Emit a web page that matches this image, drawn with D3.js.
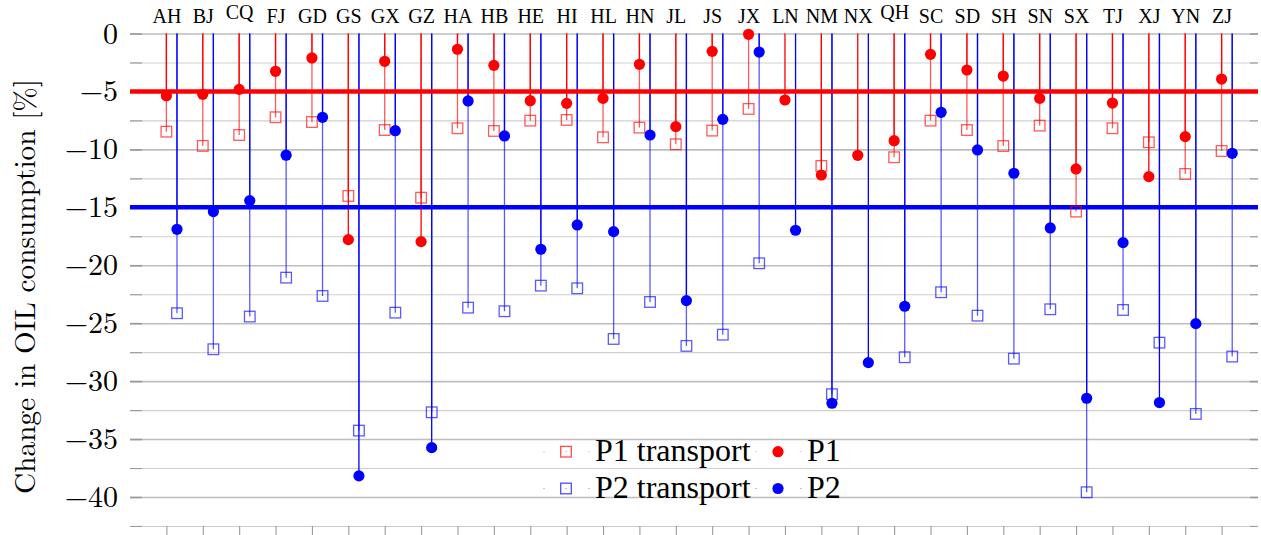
<!DOCTYPE html>
<html>
<head>
<meta charset="utf-8">
<script src="https://cdn.jsdelivr.net/npm/d3@7"></script>
<style>
  html, body { margin: 0; padding: 0; background: #fff; }
  svg { display: block; }
</style>
</head>
<body>
<svg id="chart" width="1261" height="535"></svg>
<script>
// ---------- data ----------
const categories = ["AH","BJ","CQ","FJ","GD","GS","GX","GZ","HA","HB","HE","HI","HL","HN","JL","JS","JX","LN","NM","NX","QH","SC","SD","SH","SN","SX","TJ","XJ","YN","ZJ"];
const p1Transport = [-8.47,-9.7,-8.76,-7.23,-7.64,-14.02,-8.33,-14.17,-8.18,-8.41,-7.52,-7.46,-8.96,-8.12,-9.56,-8.38,-6.51,null,-11.43,null,-10.68,-7.52,-8.33,-9.71,-7.95,-15.37,-8.18,-9.39,-12.12,-10.14];
const p1 = [-5.37,-5.25,-4.82,-3.26,-2.11,-17.79,-2.40,-17.96,-1.36,-2.75,-5.8,-6.03,-5.6,-2.66,-8.04,-1.54,-0.07,-5.74,-12.21,-10.51,-9.25,-1.8,-3.15,-3.67,-5.6,-11.69,-6.0,-12.35,-8.9,-3.93];
const p2Transport = [-24.14,-27.25,-24.43,-21.07,-22.65,-34.27,-24.09,-32.69,-23.66,-23.97,-21.76,-21.99,-26.36,-23.17,-26.96,-25.99,-19.83,null,-31.13,null,-27.94,-22.33,-24.35,-28.06,-23.8,-39.59,-23.86,-26.68,-32.83,-27.88];
const p2 = [-16.9,-15.37,-14.42,-10.5,-7.23,-38.18,-8.39,-35.74,-5.82,-8.84,-18.62,-16.52,-17.1,-8.76,-23.05,-7.41,-1.6,-16.98,-31.91,-28.4,-23.54,-6.8,-10.05,-12.06,-16.78,-31.48,-18.05,-31.85,-25.04,-10.34];
const targets = [{value: -5, color: "#ff0000"}, {value: -15, color: "#0000ff"}];
const yTickLabels = [0,-5,-10,-15,-20,-25,-30,-35,-40];
const yGrid = d3.range(0, -42.51, -2.5);
const yLabel = "Change in OIL consumption [%]";
const legendItems = [
  {label: "P1 transport", color: "#ff0000", shape: "square"},
  {label: "P1", color: "#ff0000", shape: "circle"},
  {label: "P2 transport", color: "#0000ff", shape: "square"},
  {label: "P2", color: "#0000ff", shape: "circle"}
];

(function () {
const CM = '"Latin Modern Roman", "Liberation Serif", serif';
const TIMES = '"Liberation Serif", "Times New Roman", serif';
// ---------- layout ----------
const svg = d3.select("#chart");
const pLeft = 130, pRight = 1258, pTop = 33.5;
const x = d3.scaleLinear().domain([0, categories.length + 1]).range([pLeft, pRight]);
const y = d3.scaleLinear().domain([0, -40]).range([pTop, 497]);
const blueShift = 10.6;
const cx = i => x(i + 1);

// grid
const grid = svg.append("g").attr("transform", `translate(${pLeft},0)`)
  .call(d3.axisRight(y).tickValues(yGrid).tickSize(pRight - pLeft).tickFormat(""));
grid.select(".domain").remove();
grid.selectAll(".tick line")
  .attr("stroke", d => (d % 5 === 0) ? "#bdbdbd" : "#cfcfcf")
  .attr("stroke-width", d => (d % 5 === 0) ? 1.6 : 1.1);

// left ticks (inner)
const lt = svg.append("g").attr("transform", `translate(${pLeft},0)`)
  .call(d3.axisRight(y).tickValues(yGrid).tickSize(12).tickFormat(""));
lt.select(".domain").remove();
lt.selectAll(".tick line").attr("stroke", "#9a9a9a").attr("stroke-width", d => (d % 5 === 0) ? 1.6 : 1.1);
// right ticks (inner)
const rt = svg.append("g").attr("transform", `translate(${pRight},0)`)
  .call(d3.axisLeft(y).tickValues(yGrid).tickSize(8).tickFormat(""));
rt.select(".domain").remove();
rt.selectAll(".tick line").attr("stroke", "#9a9a9a").attr("stroke-width", d => (d % 5 === 0) ? 1.6 : 1.1);

// y tick labels
const yl = svg.append("g").attr("transform", `translate(${pLeft},0)`)
  .call(d3.axisLeft(y).tickValues(yTickLabels).tickSize(0).tickPadding(12)
    .tickFormat(d => d === 0 ? "0" : "\u2212" + Math.abs(d)));
yl.select(".domain").remove();
yl.selectAll(".tick text").attr("dy", "9.5").attr("fill", "#000")
  .style("font-family", CM).style("font-size", "30px");

// bottom ticks
const bt = svg.append("g").attr("transform", `translate(0,${y(-42.5)})`)
  .call(d3.axisBottom(x).tickValues(d3.range(1, categories.length + 1)).tickSize(10).tickFormat(""));
bt.select(".domain").remove();
bt.selectAll(".tick line").attr("stroke", "#9a9a9a").attr("stroke-width", 1.1);

// top category labels
const tl = svg.append("g").attr("transform", `translate(0,${pTop})`)
  .call(d3.axisTop(x).tickValues(d3.range(1, categories.length + 1)).tickSize(0).tickPadding(11)
    .tickFormat(d => categories[d - 1]));
tl.select(".domain").remove();
tl.selectAll(".tick text").attr("fill", "#000")
  .style("font-family", TIMES).style("font-size", "20px")
  .attr("dy", d => categories[d - 1].includes("Q") ? -3.5 : 0);

// y axis title
svg.append("text")
  .attr("transform", `translate(34.5,286.5) rotate(-90)`)
  .attr("text-anchor", "middle")
  .attr("fill", "#000")
  .style("font-family", CM).style("font-size", "29.3px")
  .text(yLabel);

// ---------- series ----------
const series = [
  {values: p1Transport, color: "#ff0000", shape: "square", shift: 0, opacity: 0.65},
  {values: p1, color: "#ff0000", shape: "circle", shift: 0, opacity: 1},
  {values: p2Transport, color: "#0000ff", shape: "square", shift: blueShift, opacity: 0.65},
  {values: p2, color: "#0000ff", shape: "circle", shift: blueShift, opacity: 1}
];
const plot = svg.append("g");
series.forEach(s => {
  const pts = s.values.map((v, i) => ({v, i})).filter(d => d.v !== null);
  plot.append("g").selectAll("line").data(pts).join("line")
    .attr("x1", d => cx(d.i) + s.shift).attr("x2", d => cx(d.i) + s.shift)
    .attr("y1", y(0)).attr("y2", d => y(d.v))
    .attr("stroke", s.color).attr("stroke-width", 1.3).attr("stroke-opacity", s.opacity);
});
// target lines
svg.append("g").selectAll("line").data(targets).join("line")
  .attr("x1", pLeft).attr("x2", pRight)
  .attr("y1", d => y(d.value)).attr("y2", d => y(d.value))
  .attr("stroke", d => d.color).attr("stroke-width", 4.5);
// markers
series.forEach(s => {
  const pts = s.values.map((v, i) => ({v, i})).filter(d => d.v !== null);
  const g = svg.append("g");
  if (s.shape === "circle") {
    g.selectAll("circle").data(pts).join("circle")
      .attr("cx", d => cx(d.i) + s.shift).attr("cy", d => y(d.v)).attr("r", 5.6)
      .attr("fill", s.color);
  } else {
    g.selectAll("rect").data(pts).join("rect")
      .attr("x", d => cx(d.i) + s.shift - 5.3).attr("y", d => y(d.v) - 5.3)
      .attr("width", 10.6).attr("height", 10.6)
      .attr("fill", "none").attr("stroke", s.color).attr("stroke-width", 1.3)
      .attr("stroke-opacity", s.opacity);
  }
});

// ---------- legend ----------
const legend = svg.append("g");
const colX = [544, 756];
const rowY = [451.7, 488.5];
legendItems.forEach((it, k) => {
  const lx = colX[k % 2], ly = rowY[Math.floor(k / 2)];
  const g = legend.append("g").attr("transform", `translate(${lx},${ly})`);
  g.append("rect").attr("x", -0.5).attr("y", -0.5).attr("width", 1).attr("height", 1).attr("fill", it.color).attr("opacity", 0.5);
  g.append("rect").attr("x", 44.5).attr("y", -0.5).attr("width", 1).attr("height", 1).attr("fill", it.color).attr("opacity", 0.5);
  if (it.shape === "square") {
    g.append("rect").attr("x", 22 - 5.3).attr("y", -5.3).attr("width", 10.6).attr("height", 10.6)
      .attr("fill", "none").attr("stroke", it.color).attr("stroke-width", 1.3).attr("stroke-opacity", 0.7);
    g.append("rect").attr("x", 21.5).attr("y", -0.5).attr("width", 1).attr("height", 1).attr("fill", it.color).attr("opacity", 0.6);
  } else {
    g.append("circle").attr("cx", 22).attr("cy", 0).attr("r", 5.6).attr("fill", it.color);
  }
  g.append("text").attr("x", 51).attr("y", 9).attr("fill", "#000")
    .style("font-family", TIMES).style("font-size", "32px").text(it.label);
});
})();
</script>
</body>
</html>
